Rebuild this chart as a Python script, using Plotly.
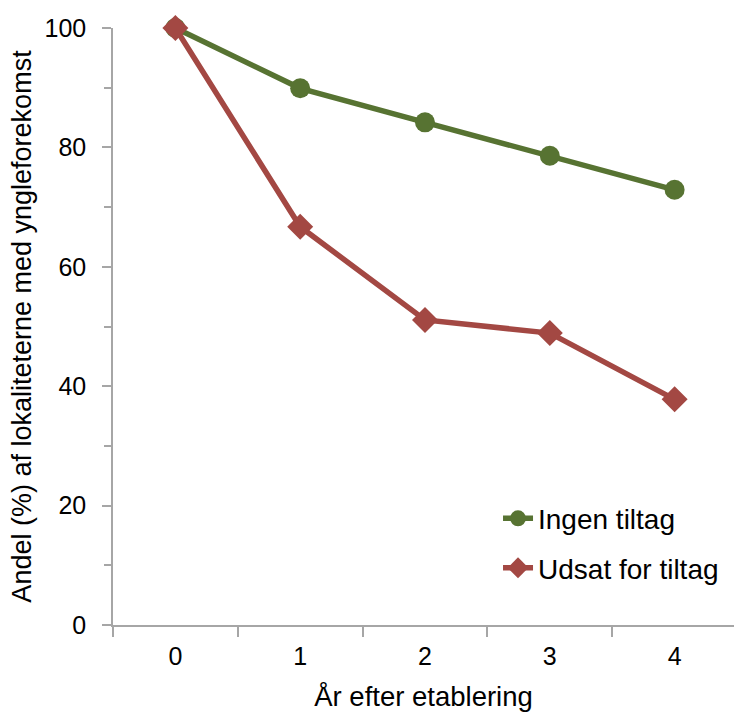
import plotly.graph_objects as go

years = ["0", "1", "2", "3", "4"]
ingen_tiltag = [100, 89.9, 84.2, 78.6, 72.9]
udsat_for_tiltag = [100, 66.7, 51.1, 48.9, 37.8]
series_names = ["Ingen tiltag", "Udsat for tiltag"]
y_ticks = [0, 20, 40, 60, 80, 100]

GREEN = "#577332"
RED = "#A34843"
AXIS = "#A6A6A6"
FONT = "Liberation Sans, Arial, sans-serif"

fig = go.Figure()
fig.add_trace(go.Scatter(
    x=years, y=ingen_tiltag, name=series_names[0], mode="lines+markers",
    legendgroup="a",
    line=dict(color=GREEN, width=5.5),
    marker=dict(symbol="circle", size=20, color=GREEN),
    cliponaxis=False,
))
fig.add_trace(go.Scatter(
    x=years, y=udsat_for_tiltag, name=series_names[1], mode="lines+markers",
    legendgroup="b",
    line=dict(color=RED, width=5.5),
    marker=dict(symbol="diamond", size=20, color=RED),
    cliponaxis=False,
))

fig.update_layout(
    width=734, height=713,
    margin=dict(l=113, r=0, t=28, b=88, pad=0),
    paper_bgcolor="white", plot_bgcolor="white",
    font=dict(family=FONT, color="black", size=25),
    showlegend=True,
    legend=dict(
        x=0.62, y=0.22, xanchor="left", yanchor="top",
        bgcolor="rgba(0,0,0,0)", font=dict(size=28),
        tracegroupgap=10, itemwidth=30,
    ),
    xaxis=dict(
        type="category", range=[-0.5, 4.476],
        tickson="boundaries", ticks="outside", ticklen=10, tickcolor=AXIS, tickwidth=1.5,
        showline=True, linecolor=AXIS, linewidth=1.5,
        showgrid=False, zeroline=False,
        tickfont=dict(size=25), ticklabelstandoff=8,
        title=dict(text="År efter etablering", font=dict(size=27.5), standoff=18),
    ),
    yaxis=dict(
        range=[0, 100], tickvals=y_ticks,
        ticks="outside", ticklen=9, tickcolor=AXIS, tickwidth=1.5,
        minor=dict(dtick=10, tick0=0, ticks="outside", ticklen=7, tickcolor=AXIS, tickwidth=1.5, showgrid=False),
        showline=True, linecolor=AXIS, linewidth=1.5,
        showgrid=False, zeroline=False,
        tickfont=dict(size=25), ticklabelstandoff=11,
        title=dict(text="Andel (%) af lokaliteterne med yngleforekomst", font=dict(size=27), standoff=5),
    ),
)

fig.write_html("out.html")
